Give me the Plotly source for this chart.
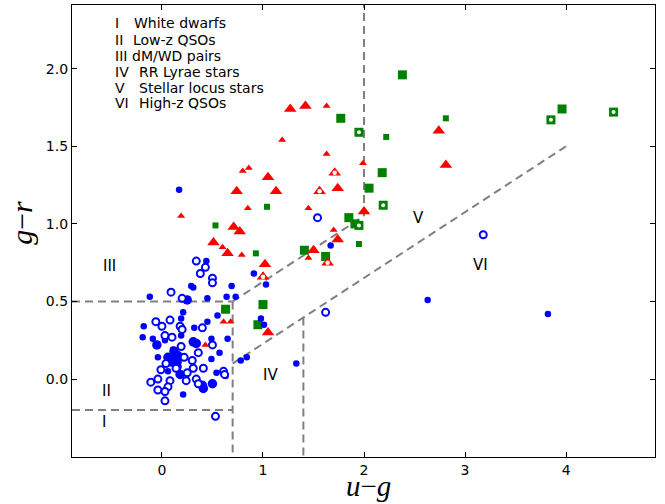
import plotly.graph_objects as go

# ---------------- data (u-g, g-r) ----------------
blue_small_x = [0.17, 1.67, 2.63, 3.82, 1.33, 0.91, 1.03, 0.69, 0.64, 0.73, 0.98, 1.01, 0.65, 0.78, 0.84,
                0.57, 0.44, 0.29, 0.31, -0.12, 0.45, 0.21, 0.19, 0.45, 0.55, -0.18, 0.32, -0.19, -0.09,
                0.03, 0.19, 0.49, 0.11, -0.04, 0.49, 0.06, 0.54, 0.21, 0.63]
blue_small_y = [1.22, 0.86, 0.51, 0.42, 0.10, 0.68, 0.61, 0.60, 0.53, 0.53, 0.39, 0.35, 0.26, 0.12, 0.14,
                0.17, 0.76, 0.60, 0.59, 0.53, 0.52, 0.43, 0.39, 0.37, 0.41, 0.34, 0.33, 0.27, 0.26,
                0.25, 0.28, 0.26, 0.19, 0.14, 0.13, 0.05, 0.04, -0.10, 0.02]

blue_big_x = [-0.05, 0.31, 0.34, 0.06, 0.11, 0.15, 0.15, 0.18, 0.40, 0.41, 0.50, 0.25, 0.12, 0.16, 0.09]
blue_big_y = [0.22, 0.24, 0.23, 0.14, 0.14, 0.11, 0.08, 0.03, -0.04, -0.06, -0.03, 0.51, 0.18, 0.15, 0.11]

blue_open_x = [1.54, 3.18, 1.62, 0.53, 0.61, 0.62, 0.34, 0.43, 0.38, 0.50, 0.50, 0.09, 0.20, -0.06, 0.08,
               0.00, 0.18, 0.20, 0.40, 0.03, 0.10, 0.50, 0.19, 0.36, 0.22, 0.04, 0.30, -0.01, 0.14,
               0.25, 0.31, 0.41, -0.04, -0.11, 0.08, 0.24, 0.34, 0.36, -0.04, 0.06, 0.03, 0.03]
blue_open_y = [1.04, 0.93, 0.43, -0.24, 0.05, 0.03, 0.76, 0.72, 0.68, 0.65, 0.62, 0.56, 0.52, 0.37, 0.38,
               0.34, 0.34, 0.32, 0.33, 0.28, 0.27, 0.22, 0.21, 0.17, 0.14, 0.10, 0.12, 0.06, 0.07,
               0.04, 0.07, 0.07, 0.00, -0.02, -0.01, -0.01, 0.00, -0.03, -0.07, -0.05, -0.08, -0.14]

red_big_x = [1.27, 1.42, 1.05, 0.74, 1.13, 1.74, 0.71, 0.77, 0.51, 0.65, 1.02, 1.74, 2.00, 1.50, 1.05, 2.74, 2.81]
red_big_y = [1.74, 1.76, 1.30, 1.21, 1.21, 1.23, 0.98, 0.95, 0.88, 0.81, 0.74, 0.90, 1.08, 0.83, 0.30, 1.60, 1.38]

red_small_x = [1.63, 1.19, 1.63, 0.80, 0.86, 1.99, 0.85, 1.45, 0.19, 0.60, 0.79, 1.70, 1.45, 0.61, 0.68, 0.43]
red_small_y = [1.76, 1.54, 1.45, 1.34, 1.36, 1.39, 1.10, 1.10, 1.05, 0.85, 0.80, 0.96, 0.78, 0.37, 0.37, 0.22]

red_open_x = [1.71, 1.56, 1.64, 1.00]
red_open_y = [1.33, 1.21, 0.75, 0.66]

green_big_x = [2.38, 1.77, 3.96, 2.18, 2.05, 1.85, 1.91, 1.41, 1.62, 0.63, 1.00, 0.95]
green_big_y = [1.96, 1.68, 1.74, 1.33, 1.23, 1.04, 1.00, 0.83, 0.79, 0.45, 0.48, 0.35]

green_small_x = [2.81, 2.22, 1.04, 0.53, 0.93, 1.95]
green_small_y = [1.68, 1.56, 1.11, 0.99, 0.81, 0.87]

green_open_x = [1.95, 2.19, 1.95, 3.85, 4.47]
green_open_y = [1.59, 1.12, 0.99, 1.67, 1.72]

# classification boundaries (u-g, g-r) segments
boundary_segments = [
    ((-0.89, 0.5), (0.7, 0.5)),
    ((0.7, 0.5), (2.0, 1.05)),
    ((2.0, 1.05), (2.0, 2.41)),
    ((0.7, 0.5), (0.7, -0.502)),
    ((-0.89, -0.2), (0.7, -0.2)),
    ((0.7, 0.1), (4.0, 1.5)),
    ((1.4, 0.397), (1.4, -0.502)),
]

region_numerals = ["I", "II", "III", "IV", "V", "VI"]
region_names = ["White dwarfs", "Low-z QSOs", "dM/WD pairs", "RR Lyrae stars", "Stellar locus stars", "High-z QSOs"]

x_ticks = [0, 1, 2, 3, 4]
y_ticks = [0.0, 0.5, 1.0, 1.5, 2.0]

# ---------------- figure ----------------
BLUE = "#0000ff"
RED = "#ff0000"
GREEN = "#008000"

fig = go.Figure()

def add(x, y, symbol, size, color, line_color=None, line_width=0):
    fig.add_trace(go.Scatter(
        x=x, y=y, mode="markers", hoverinfo="skip", showlegend=False,
        marker=dict(symbol=symbol, size=size, color=color,
                    line=dict(color=line_color or color, width=line_width))))

add(green_big_x, green_big_y, "square", 9, GREEN)
add(green_small_x, green_small_y, "square", 6, GREEN)
add(green_open_x, green_open_y, "square", 9, GREEN)
add(green_open_x, green_open_y, "circle", 4, "white")
add(blue_small_x, blue_small_y, "circle", 6.5, BLUE)
add(blue_big_x, blue_big_y, "circle", 9.5, BLUE)
add(blue_open_x, blue_open_y, "circle", 7, "white", BLUE, 2)
add(red_small_x, red_small_y, "triangle-up", 7, RED)
add(red_big_x, red_big_y, "triangle-up", 11, RED)
add(red_open_x, red_open_y, "triangle-up", 11, RED)
add(red_open_x, red_open_y, "circle", 4.5, "white")

for (x0, y0), (x1, y1) in boundary_segments:
    fig.add_shape(type="line", x0=x0, y0=y0, x1=x1, y1=y1, xref="x", yref="y", layer="below",
                  line=dict(color="#808080", width=2, dash="8px,5px"))

# region labels inside plot
region_label_pos = {"III": (-0.515, 0.73), "II": (-0.545, -0.077), "I": (-0.574, -0.277),
                    "IV": (1.07, 0.026), "V": (2.535, 1.04), "VI": (3.15, 0.735)}
for k, (lx, ly) in region_label_pos.items():
    fig.add_annotation(x=lx, y=ly, text=k, showarrow=False, xanchor="center", yanchor="middle",
                       font=dict(size=15, color="black"))

# legend-like text block
line_y = [2.297, 2.187, 2.084, 1.981, 1.877, 1.781]
name_x = [-0.297, -0.307, -0.317, -0.248, -0.248, -0.248]
for num, name, ly, nx in zip(region_numerals, region_names, line_y, name_x):
    fig.add_annotation(x=-0.485, y=ly, text=num, showarrow=False, xanchor="left", yanchor="middle",
                       font=dict(size=14, color="black"))
    fig.add_annotation(x=nx, y=ly, text=name, showarrow=False, xanchor="left", yanchor="middle",
                       font=dict(size=14, color="black"))

# axis titles
fig.add_annotation(x=0.509, y=0, xref="paper", yref="paper", yanchor="bottom", yshift=-47,
                   text="<i>u</i>−<i>g</i>", showarrow=False,
                   font=dict(family="Liberation Serif", size=29, color="black"))
fig.add_annotation(x=0, y=0.518, xref="paper", yref="paper", xanchor="center", xshift=-50,
                   text="<i>g</i>−<i>r</i>", textangle=-90, showarrow=False,
                   font=dict(family="Liberation Serif", size=30, color="black"))

axis_common = dict(showgrid=False, zeroline=False, showline=True, linecolor="black", linewidth=1.2,
                   mirror="allticks", ticks="inside", ticklen=5, tickwidth=1, tickcolor="black",
                   tickfont=dict(size=14, color="black"))

fig.update_layout(
    width=665, height=504,
    margin=dict(l=72, r=10, t=5, b=47),
    plot_bgcolor="white", paper_bgcolor="white",
    font=dict(family="DejaVu Sans", color="black"),
    xaxis=dict(range=[-0.89, 4.88], tickvals=x_ticks, ticktext=[str(t) for t in x_ticks], **axis_common),
    yaxis=dict(range=[-0.502, 2.41], tickvals=y_ticks, ticktext=[f"{t:.1f}" for t in y_ticks], **axis_common),
)

fig.write_html("out.html")
